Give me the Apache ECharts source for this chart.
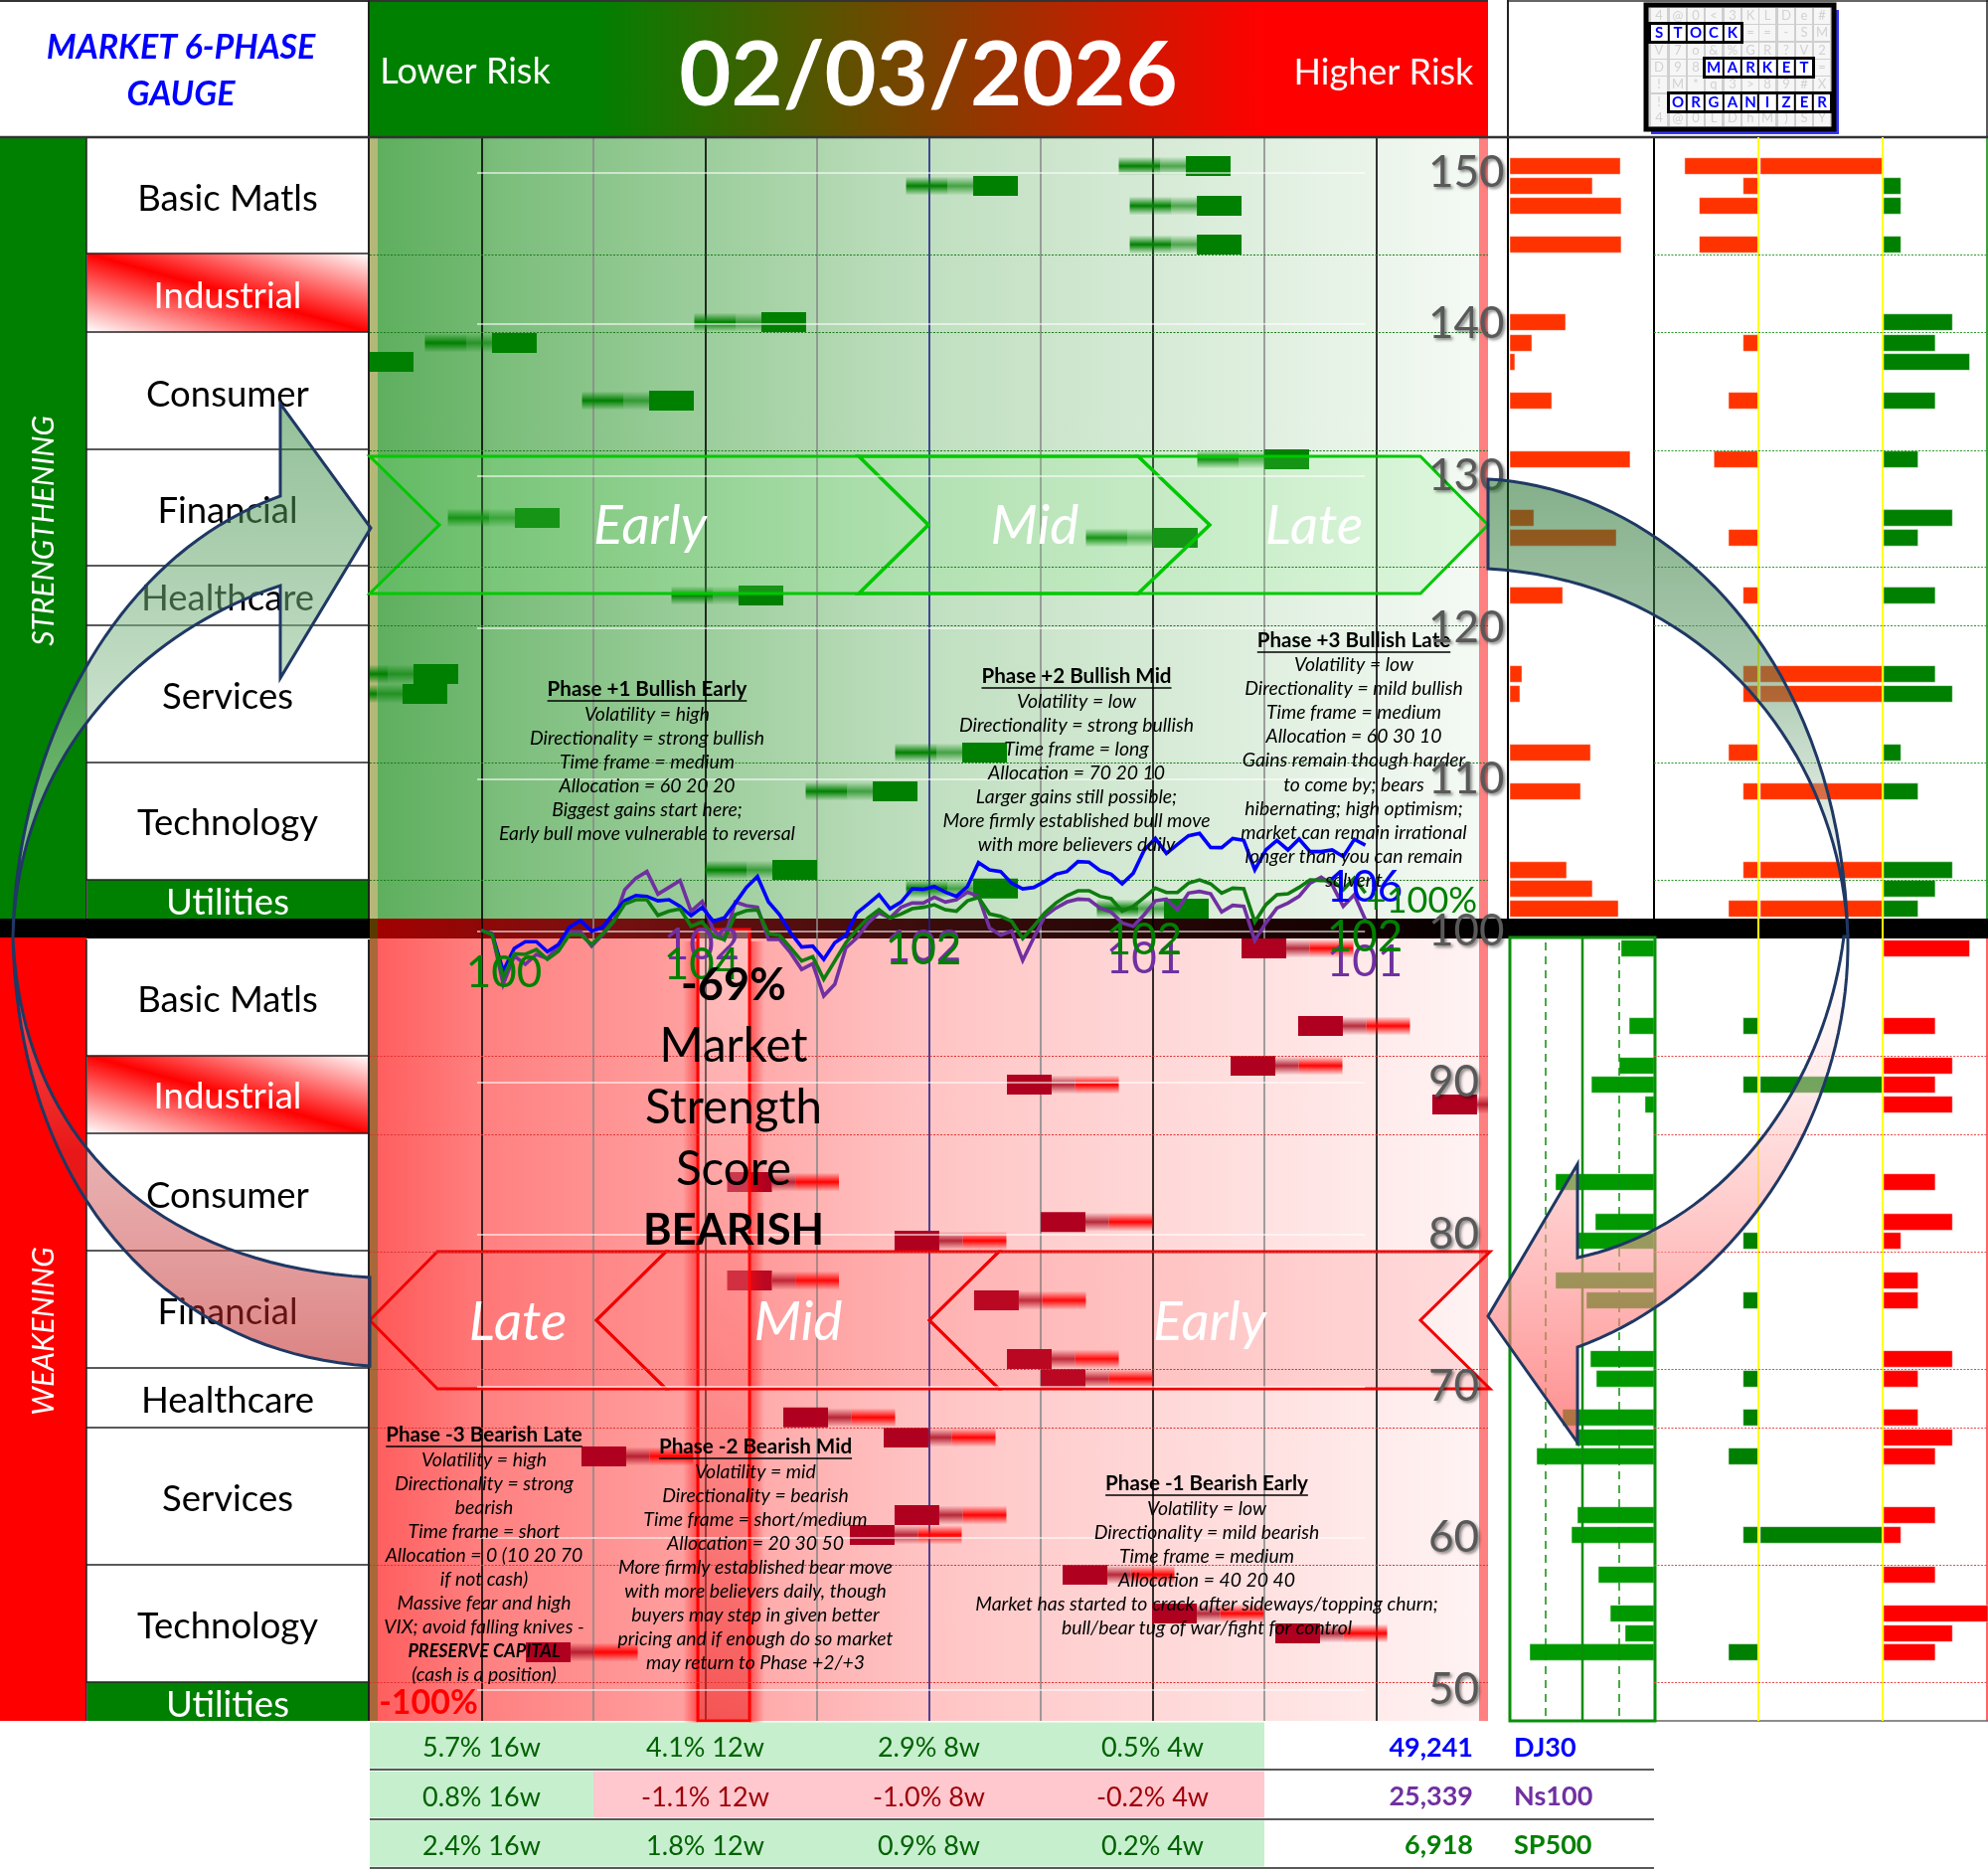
<!DOCTYPE html>
<html><head><meta charset="utf-8">
<style>html,body{margin:0;padding:0;background:#fff}#c{width:2000px;height:1880px}</style>
<script src="https://cdn.jsdelivr.net/npm/echarts@6/dist/echarts.min.js"></script>
</head><body><div id="c"></div>
<script>
// ---------- DATA ----------
const axisTicks = [50,60,70,80,90,100,110,120,130,140,150];
const rowBoundariesUp = [144.6,139.49,131.69,124.02,120.15,111.11,103.38];
const rowBoundariesDown = [91.78,86.6,78.87,71.14,67.28,58.23,50.5];

// sectors above 100: level, position of right end in the gauge, three side panels
const gainLevel = [150.43,149.12,147.81,145.26,140.14,138.77,137.52,134.97,131.1,127.24,125.93,122.13,116.95,115.64,111.77,109.21,104.03,102.8,101.48];
const gainPos   = [7.698,5.796,7.796,7.796,3.902,1.493,0.391,2.898,8.4,1.698,7.404,3.698,0.791,0.693,5.698,4.898,4.0,5.796,7.502];
const gainA     = [76.6,57.2,77.2,77.2,38.6,15.2,3.4,29,83.4,16.6,73.8,36.6,8.3,6.9,55.9,49,39.3,57.2,75.2];
const gainDepth = [5,1,4,4,0,1,0,2,3,0,2,1,1,1,2,1,1,0,2];
const gainSpan  = [1,0,0,0,0,0,0,0,0,0,0,0,1,1,0,1,1,0,1];
const gainRight = [0,1,1,1,4,3,5,3,2,4,2,3,3,4,1,2,4,3,2];

// sectors below 100
const lossLevel = [98.86,93.75,91.13,89.88,88.57,83.46,80.83,79.59,76.97,75.66,71.8,70.49,67.94,66.62,65.38,61.51,60.2,57.58,55.02,53.71,52.47];
const lossPos   = [7.796,8.302,7.698,5.698,9.502,3.196,6.0,4.693,3.196,5.404,5.698,6.0,3.698,4.596,1.893,4.693,4.293,6.196,6.996,8.098,1.396];
const lossA     = [22.8,17.2,24.1,43.4,6.2,68.3,40.7,53.1,68.3,46.9,44.1,40,63.4,54.5,81.4,53.1,57.2,38.6,30.3,20,86.2];
const lossDepth = [0,1,0,1,0,0,0,1,0,1,0,1,1,0,2,0,1,0,0,0,2];
const lossSpan  = [0,0,0,1,0,0,0,0,0,0,0,0,0,0,0,0,1,0,0,0,0];
const lossRight = [5,3,4,3,4,3,4,1,2,2,4,2,2,4,3,3,1,3,6.07,4,3];

const dj30 = [100.06,99.82,97.37,98.86,99.30,99.30,98.64,99.12,100.26,100.69,100.0,100.26,101.20,102.0,102.35,102.29,102.0,102.07,101.63,101.02,101.57,100.65,100.87,101.85,102.88,103.60,101.92,101.09,99.89,98.95,99.01,98.14,99.23,99.73,101.20,101.79,102.40,101.48,101.92,102.79,102.75,102.94,102.57,102.29,102.94,104.52,104.04,103.93,103.16,102.79,102.88,103.27,103.75,103.93,104.58,104.54,103.99,103.75,103.12,103.82,105.35,106.11,105.13,105.72,106.29,106.44,105.52,105.50,106.11,105.98,104.04,105.35,105.98,105.35,106.07,105.24,105.24,105.35,104.91,106.05,105.67];
const ns100 = [100.06,99.82,96.50,98.36,97.81,98.47,98.20,99.01,99.95,99.95,99.01,99.78,100.65,102.73,103.49,103.93,102.44,102.88,103.34,101.31,101.96,100.10,99.45,101.92,101.68,101.57,99.45,99.45,98.57,97.48,97.85,95.73,96.50,98.90,99.56,100.54,101.20,100.87,101.57,101.85,101.85,102.24,101.92,102.07,102.57,102.29,100.21,99.73,100.0,98.07,99.56,100.98,101.52,101.92,102.11,102.07,101.52,101.26,100.54,100.32,101.09,102.0,102.11,101.41,102.51,102.62,102.46,101.26,101.70,101.63,99.38,100.54,101.52,101.85,102.29,103.16,103.55,103.05,101.63,102.40,100.76];
const sp500 = [100.06,99.78,96.94,98.51,98.47,98.79,98.14,98.68,99.78,99.78,99.12,99.82,100.65,101.79,102.07,102.07,101.04,101.31,101.46,100.32,100.61,99.67,99.45,101.09,101.35,101.41,99.82,99.73,98.90,98.03,98.31,96.83,98.03,99.23,100.10,100.87,101.41,100.87,101.13,101.48,101.57,101.74,101.41,101.31,102.0,102.22,101.13,100.98,100.65,99.51,100.32,101.20,101.85,102.33,102.66,102.66,102.29,102.14,101.31,101.63,102.22,102.83,102.55,102.55,103.16,103.38,103.12,102.51,102.83,102.79,100.61,101.74,102.40,102.46,102.88,103.38,103.34,103.34,102.73,103.49,102.51];

const weeks = ['16w','12w','8w','4w'];
const indexNames = ['DJ30','Ns100','SP500'];
const indexLevels = ['49,241','25,339','6,918'];
const dj30Change = [5.7,4.1,2.9,0.5];
const ns100Change = [0.8,-1.1,-1.0,-0.2];
const sp500Change = [2.4,1.8,0.9,0.2];

const sectorsUp = ['Basic Matls','Industrial','Consumer','Financial','Healthcare','Services','Technology','Utilities'];
const scoreText = ['-69%','Market','Strength','Score','BEARISH'];

// ---------- LAYOUT ----------
const F = 'Lato, "Open Sans", sans-serif';
const TOP = 138, BOTTOM = 1731, H = BOTTOM - TOP, PX = 15.26;
const yMaxV = 150 + (173.6 - TOP) / PX, yMinV = 150 - (BOTTOM - 173.6) / PX;

const G = [];
const measure = document.createElement('canvas').getContext('2d');
const rect = (x,y,w,h,fill,z,extra) => G.push(Object.assign({type:'rect',shape:{x,y,width:w,height:h},style:{fill},z:z||1,silent:true},extra||{}));
const seg = (x1,y1,x2,y2,stroke,lw,z,dash) => G.push({type:'line',shape:{x1,y1,x2,y2},style:{stroke,lineWidth:lw,lineDash:dash||null},z:z||2,silent:true});
const txt = (x,y,text,font,fill,z,extra) => G.push(Object.assign({type:'text',x,y:y+1,z:z||6,silent:true,style:Object.assign({text,font,fill,align:'center',verticalAlign:'middle',textAlign:'center',textVerticalAlign:'middle'},(extra||{}))}));
// outline given as M/L/C commands, flattened to a polygon
function path(d,fill,stroke,lw,z){
  const tok=d.match(/[MLCZ]|-?[\d.]+/g); const pts=[]; let i=0,cmd='';
  while(i<tok.length){
    if(/[MLCZ]/.test(tok[i])){cmd=tok[i++]; if(cmd==='Z')continue;}
    if(cmd==='C'){
      const p0=pts[pts.length-1],a=[+tok[i],+tok[i+1]],b=[+tok[i+2],+tok[i+3]],c=[+tok[i+4],+tok[i+5]]; i+=6;
      for(let k=1;k<=40;k++){const t=k/40,u=1-t;
        pts.push([u*u*u*p0[0]+3*u*u*t*a[0]+3*u*t*t*b[0]+t*t*t*c[0],u*u*u*p0[1]+3*u*u*t*a[1]+3*u*t*t*b[1]+t*t*t*c[1]]);}
    } else { pts.push([+tok[i],+tok[i+1]]); i+=2; }
  }
  G.push({type:'polygon',shape:{points:pts},style:{fill,stroke,lineWidth:lw,lineJoin:'miter'},z,silent:true});
}
const grad = (x,y,x2,y2,stops,global) => ({type:'linear',x,y,x2,y2,global:!!global,colorStops:stops.map(s=>({offset:s[0],color:s[1]}))});

// page frame
rect(0,0,2000,1880,'#fff',-20);
// header
rect(372,0,1125,138,grad(0,0,1,0,[[0,'#008000'],[0.2,'#008000'],[0.8,'#ff0000'],[1,'#ff0000']]),-5);
seg(0,1,1497,1,'#333',2,2);
seg(371,0,371,TOP,'#222',2,2);
seg(0,TOP,2000,TOP,'#333',2.5,5);
seg(1517,1,2000,1,'#333',1.5,2);
seg(1517,0,1517,TOP,'#222',2,2);
seg(1999,0,1999,TOP,'#222',1.5,2);
txt(182,47,'MARKET 6-PHASE','italic bold 34px '+F,'#0000ff');
txt(182,94,'GAUGE','italic bold 34px '+F,'#0000ff');
txt(468,71,'Lower Risk','36px '+F,'#fff');
txt(1392,72,'Higher Risk','36px '+F,'#fff');
txt(934,76,'02/03/2026','bold 90px '+F,'#fff');

// logo
rect(1661,10,189,125,'#3333ff',3);
rect(1656,5,189,125,'#cfcfcf',4,{style:{fill:'#cfcfcf',stroke:'#000',lineWidth:5}});
const logoRows = ['4@0<3KLDe#','STOCK==-SM','V7o&%GR?V2','D98MARKET=','!M*q3>89#X','!ORGANIZER','4@0LDhM)SY'];
const logoCol = [1669,1688,1706,1724,1743,1761,1778,1797,1815,1833];
const logoRow = [16,33,51,68,85,103,119];
const logoWords = [[1,0,4],[3,3,8],[5,1,9]];
logoRows.forEach((r,ri)=>{[...r].forEach((ch,ci)=>{
  rect(logoCol[ci]-8,logoRow[ri]-8,16,16,'#f6f6f6',4);
  const w = logoWords.find(w=>w[0]===ri && ci>=w[1] && ci<=w[2]);
  if(!w) txt(logoCol[ci],logoRow[ri]-1,ch,'13px '+F,'#d2d2d2',5);
});});
logoWords.forEach(w=>{
  const x0=logoCol[w[1]]-9.5,x1=logoCol[w[2]]+9.5,y=logoRow[w[0]];
  rect(x0,y-9.5,x1-x0,19,'#000',5,{style:{fill:'#fff',stroke:'#000',lineWidth:3}});
  for(let c=w[1];c<=w[2];c++){
    if(c>w[1]) seg(logoCol[c]-9.2,y-9,logoCol[c]-9.2,y+9,'#000',2,5);
    txt(logoCol[c],y-1,logoRows[w[0]][c],'bold 15px '+F,'#0000ff',6);
  }
});

// left columns and sector cells
rect(0,TOP,87,924-TOP,'#008000',1);
rect(0,943,87,BOTTOM-943,'#ff0000',1);
const vert=(y,t)=>G.push({type:'text',x:44,y,rotation:Math.PI/2,z:6,silent:true,style:{text:t,font:'italic 30px '+F,fill:'#fff',align:'center',verticalAlign:'middle',textAlign:'center',textVerticalAlign:'middle'}});
vert(534,'STRENGTHENING'); vert(1339,'WEAKENING');
const upBounds=[138,255,334,452,569,629,767,885,924];
const dnBounds=[945,1062,1140,1258,1376,1436,1574,1692,1731];
const upText=[199,297,396,513,601,700,827,907];
const dnText=[1005,1102,1202,1319,1408,1507,1635,1714];
function cells(bounds,texts){
  sectorsUp.forEach((s,i)=>{
    const y0=bounds[i],y1=bounds[i+1],my=(y0+y1)/2;
    if(s==='Industrial'){
      rect(88,y0,283,y1-y0,grad(208.5,my+73.3,249.5,my-73.3,[[0,'#ffffff'],[0.5,'#ff0000'],[1,'#ffffff']],true),1);
    } else if(s==='Utilities'){
      rect(88,y0,283,y1-y0,'#008000',1);
    }
    const white=(s==='Industrial'||s==='Utilities');
    txt(229,texts[i],s,'36.5px '+F,white?'#fff':'#000',6);
    if(i>0) seg(87,y0,371,y0,'#222',1.5,2);
  });
  seg(87,bounds[0],87,bounds[8],'#222',1.5,2);
  seg(371,bounds[0],371,bounds[8],'#222',2,2);
}
cells(upBounds,upText); cells(dnBounds,dnText);

// gauge backgrounds
rect(372,TOP,1125,924-TOP,grad(0,0,1,0,[[0,'#5dae5d'],[0.1,'#72b972'],[0.11,'#7abd7a'],[0.5,'#c0dfc0'],[1,'#f5faf5']]),-5);
rect(372,943,1125,BOTTOM-943,grad(0,0,1,0,[[0,'#ff5c5c'],[0.1,'#ff8080'],[0.5,'#ffc4c4'],[1,'#fff4f4']]),-5);
rect(372,TOP,8,924-TOP,'#b3b878',-4);
rect(372,943,8,BOTTOM-943,'#a8683a',-4);
rect(1488,TOP,9,BOTTOM-TOP,'#ff8080',-4);
// black band
rect(0,924,2000,20,'#000',-3);
rect(372,924,1125,20,grad(0,0,1,0,[[0,'#a30000'],[0.2,'#7a1010'],[0.5,'#3a0c0c'],[0.9,'#120000'],[1,'#000']]),-2);
rect(372,924,8,20,'#5a3a00',-2);

// side panel frames
seg(1517,TOP,1517,924,'#000',2,2);
seg(1664,TOP,1664,924,'#000',2,2);
seg(1999,TOP,1999,924,'#008000',1.5,2);
seg(1999,944,1999,BOTTOM,'#ff3030',1.5,2);
seg(1664,BOTTOM,2000,BOTTOM,'#666',1.5,2);
rect(1519,943,146,BOTTOM-943,'rgba(0,0,0,0)',4,{style:{fill:'rgba(0,0,0,0)',stroke:'#0a8f0a',lineWidth:3}});
seg(1592,944,1592,BOTTOM,'#0a8f0a',2.5,4);
seg(1555,948,1555,BOTTOM,'#0a8f0a',1.5,4,[8,6]);
seg(1629,948,1629,BOTTOM,'#0a8f0a',1.5,4,[8,6]);
seg(1769,TOP,1769,BOTTOM,'#ffff00',2,5);
seg(1894,TOP,1894,BOTTOM,'#ffff00',2,5);

// chevrons
const chevU='#00c800', chevD='#f00000';
const chevFillU='rgba(120,240,120,0.18)', chevFillD='rgba(255,60,60,0.13)';
path('M372 459L864 459L934 528L864 597L372 597L442 528Z',chevFillU,chevU,3,4);
path('M864 459L1145 459L1217 528L1145 597L864 597L934 528Z',chevFillU,chevU,3.5,4);
path('M1145 459L1429 459L1497 528L1429 597L1145 597L1217 528Z',chevFillU,chevU,3,4);
path('M372 1328L440 1259L670 1259L600 1328L670 1397L440 1397Z',chevFillD,chevD,3,4);
path('M600 1328L670 1259L1005 1259L935 1328L1005 1397L670 1397Z',chevFillD,chevD,3,4);
path('M935 1328L1005 1259L1499 1259L1429 1328L1499 1397L1005 1397Z',chevFillD,chevD,3,4);
const chevTextFont='italic 55px '+F;
txt(654,528,'Early',chevTextFont,'#fff',6);
txt(1041,528,'Mid',chevTextFont,'#fff',6);
txt(1322,528,'Late',chevTextFont,'#fff',6);
txt(521,1329,'Late',chevTextFont,'#fff',6);
txt(803,1329,'Mid',chevTextFont,'#fff',6);
txt(1217,1329,'Early',chevTextFont,'#fff',6);

// arrows
const navy='#1f3864';
path('M13 942C16 760 110 560 282 499L282 406L373 531L282 682L282 589C130 640 18 770 13 942Z',
  grad(0,0,0,1,[[0,'rgba(40,130,50,0.5)'],[0.5,'rgba(140,190,145,0.55)'],[1,'rgba(255,255,255,0.6)']]),navy,3,7);
path('M13 942C20 1120 130 1270 372 1285L372 1374C160 1360 18 1190 13 942Z',
  grad(0,0,0,1,[[0,'rgba(255,255,255,0.3)'],[0.5,'rgba(200,60,60,0.4)'],[1,'rgba(192,30,30,0.55)']]),navy,3,7);
path('M1497 482C1660 490 1850 640 1859 942C1852 760 1720 585 1497 572Z',
  grad(0,0,0,1,[[0,'rgba(30,110,40,0.55)'],[0.45,'rgba(90,150,100,0.5)'],[1,'rgba(255,255,255,0.3)']]),navy,3,7);
path('M1859 942C1862 1130 1740 1300 1587 1355L1587 1451L1497 1324L1587 1171L1587 1265C1730 1235 1835 1100 1855 942Z',
  grad(0,0,0,1,[[0,'rgba(255,255,255,0.2)'],[0.4,'rgba(255,190,190,0.55)'],[1,'rgba(255,90,90,0.7)']]),navy,3,7);

// phase notes
function note(cx,headY,head,ys,lines){
  const hf='bold 20.6px '+F;
  txt(cx,headY,head,hf,'#000',6);
  measure.font=hf; const w=measure.measureText(head).width;
  seg(cx-w/2,headY+13,cx+w/2,headY+13,'#000',1.3,6);
  lines.forEach((l,i)=>{
    const bold=l==='PRESERVE CAPITAL';
    txt(cx,ys[i],l,(bold?'italic bold 18px ':'italic 19.4px ')+F,'#000',6);
  });
}
note(651,692,'Phase +1 Bullish Early',[718,742,766,790,814,838],['Volatility = high','Directionality = strong bullish','Time frame = medium','Allocation = 60 20 20','Biggest gains start here;','Early bull move vulnerable to reversal']);
note(1083,679,'Phase +2 Bullish Mid',[705,729,753,777,801,825,849],['Volatility = low','Directionality = strong bullish','Time frame = long','Allocation = 70 20 10','Larger gains still possible;','More firmly established bull move','with more believers daily']);
note(1362,643,'Phase +3 Bullish Late',[668,692,716,740,764,789,813,837,861,885],['Volatility = low','Directionality = mild bullish','Time frame = medium','Allocation = 60 30 10','Gains remain though harder','to come by; bears','hibernating; high optimism;','market can remain irrational','longer than you can remain','solvent']);
note(487,1442,'Phase -3 Bearish Late',[1468,1492,1516,1540,1564,1588,1612,1636,1660,1684],['Volatility = high','Directionality = strong','bearish','Time frame = short','Allocation = 0 (10 20 70','if not cash)','Massive fear and high','VIX; avoid falling knives -','PRESERVE CAPITAL','(cash is a position)']);
note(760,1454,'Phase -2 Bearish Mid',[1480,1504,1528,1552,1576,1600,1624,1648,1672],['Volatility = mid','Directionality = bearish','Time frame = short/medium','Allocation = 20 30 50','More firmly established bear move','with more believers daily, though','buyers may step in given better','pricing and if enough do so market','may return to Phase +2/+3']);
note(1214,1491,'Phase -1 Bearish Early',[1517,1541,1565,1589,1613,1637],['Volatility = low','Directionality = mild bearish','Time frame = medium','Allocation = 40 20 40','Market has started to crack after sideways/topping churn;','bull/bear tug of war/fight for control']);

// score text
const scoreY=[990,1052,1114,1176,1237];
const scoreFont=['bold 45px ','47.5px ','47.5px ','47.5px ','bold 43.5px '];
scoreText.forEach((t,i)=>txt(738,scoreY[i],t,scoreFont[i]+F,'#000',8));

// series labels on the chart
const sz='44px '+F;
txt(507,978,'100',sz,'#008000',6);
txt(706,950,'102',sz,'#7030a0',6);
txt(706,970,'104',sz,'#008000',6);
txt(929,952,'102',sz,'#7030a0',6);
txt(929,955,'102',sz,'#008000',6);
txt(1151,964,'101',sz,'#7030a0',6);
txt(1151,945,'102',sz,'#008000',6);
txt(1373,967,'101',sz,'#7030a0',6);
txt(1373,942,'102',sz,'#008000',6);
txt(1373,892,'106',sz,'#0000ff',6);
txt(1430,905,'+100%','36px '+F,'#008000',6);
txt(431,1712,'-100%','bold 34px '+F,'#ff0000',6);

// bottom table right part
const idxColor=['#0000ff','#7030a0','#008000'];
const idxY=[1758,1807.5,1856];
indexNames.forEach((n,i)=>{
  G.push({type:'text',x:1482,y:idxY[i],z:6,silent:true,style:{text:indexLevels[i],font:'bold 27px '+F,fill:idxColor[i],align:'right',verticalAlign:'middle',textAlign:'right',textVerticalAlign:'middle'}});
  G.push({type:'text',x:1523,y:idxY[i],z:6,silent:true,style:{text:n,font:'bold 27px '+F,fill:idxColor[i],align:'left',verticalAlign:'middle',textAlign:'left',textVerticalAlign:'middle'}});
});
[1780,1830,1879].forEach(y=>seg(372,y,1664,y,'#222',1.5,6));

// ---------- GRIDS / AXES ----------
const grids=[], xAxes=[], yAxes=[];
function addGrid(left,width,xa,ya,top,height){
  const i=grids.length;
  grids.push({left,width,top:top===undefined?TOP:top,height:height===undefined?H:height,containLabel:false});
  xAxes.push(Object.assign({gridIndex:i,type:'value',show:false,splitLine:{show:false}},xa));
  yAxes.push(Object.assign({gridIndex:i,type:'value',min:yMinV,max:yMaxV,show:false,splitLine:{show:false}},ya||{}));
  return i;
}
const gMain=addGrid(372,1125,{min:0,max:10,interval:1,show:true,z:1,axisLine:{show:false},axisTick:{show:false},axisLabel:{show:false},
  splitLine:{show:true,lineStyle:{width:1.6,color:['rgba(0,0,0,0)','#000','#8a8a8a','#000','#8a8a8a','#20208a','#8a8a8a','#000','#8a8a8a','#000','rgba(0,0,0,0)']}}},
  {show:true,position:'right',offset:-60,z:6,axisLine:{show:false},axisTick:{show:false},
   axisLabel:{show:true,customValues:axisTicks,margin:0,align:'left',fontFamily:F,fontSize:44,color:'#595959',textShadowColor:'rgba(0,0,0,0.45)',textShadowBlur:3,textShadowOffsetX:2,textShadowOffsetY:2}});
const gLines=addGrid(484,889.6,{type:'category',boundaryGap:false,data:dj30.map((_,i)=>i)});
const gAUp=addGrid(1519,145,{min:0,max:100});
const gADn=addGrid(1519,145,{min:0,max:100,inverse:true});
const gB=addGrid(1664,230,{min:-7.1,max:8.54});
const gC=addGrid(1895,105,{min:0,max:6.07});
const gT=addGrid(372,900,{type:'category',data:weeks,boundaryGap:true},{type:'category',data:indexNames,inverse:true,min:null,max:null},BOTTOM,148);

// ---------- RENDERERS ----------
function barSeries(g,data,color,z){
  return {type:'custom',xAxisIndex:g,yAxisIndex:g,z:z||3,silent:true,clip:false,animation:false,
    encode:{x:[0,1],y:2},data,
    renderItem:(p,api)=>{
      const a=api.coord([api.value(0),api.value(2)]),b=api.coord([api.value(1),api.value(2)]);
      return {type:'rect',shape:{x:Math.min(a[0],b[0]),y:a[1]-8.3,width:Math.abs(a[0]-b[0]),height:16.6},
        style:{fill:color,stroke:'rgba(255,255,255,0.45)',lineWidth:1}};
    }};
}
function vGrad(rgb,a){return grad(0,0,0,1,[[0,`rgba(${rgb},0)`],[0.5,`rgba(${rgb},${a})`],[1,`rgba(${rgb},0)`]]);}
function markSeries(levels,pos,gain){
  return {type:'custom',xAxisIndex:gMain,yAxisIndex:gMain,z:3,silent:true,clip:true,animation:false,
    encode:{x:0,y:1},data:pos.map((p,i)=>[p,levels[i]]),
    renderItem:(params,api)=>{
      const c=api.coord([api.value(0),api.value(1)]),u=api.size([1,0])[0];
      const body=u*0.4,tail=u*0.6,h=20,th=19;
      const kids=[];
      if(gain){
        kids.push({type:'rect',shape:{x:c[0]-body,y:c[1]-h/2,width:body,height:h},style:{fill:'#008000'}});
        kids.push({type:'rect',shape:{x:c[0]-u,y:c[1]-th/2,width:tail*0.62,height:th},style:{fill:vGrad('0,128,0',1)}});
        kids.push({type:'rect',shape:{x:c[0]-u+tail*0.62,y:c[1]-th/2,width:tail*0.38,height:th},style:{fill:vGrad('0,128,0',0.65)}});
      } else {
        kids.push({type:'rect',shape:{x:c[0],y:c[1]-h/2,width:body,height:h},style:{fill:'#b00020'}});
        kids.push({type:'rect',shape:{x:c[0]+body,y:c[1]-th/2,width:tail*0.35,height:th},style:{fill:vGrad('170,10,30',0.85)}});
        kids.push({type:'rect',shape:{x:c[0]+body+tail*0.35,y:c[1]-th/2,width:tail*0.65,height:th},style:{fill:vGrad('255,0,0',1)}});
      }
      return {type:'group',children:kids};
    }};
}
function ruleSeries(g,values,color){
  return {type:'line',xAxisIndex:g,yAxisIndex:g,data:[],z:2,silent:true,
    markLine:{silent:true,symbol:'none',animation:false,label:{show:false},lineStyle:{type:[2,1.5],width:1,color},data:values.map(v=>({yAxis:v}))}};
}
const lineSeries=(data,color,z)=>({type:'line',xAxisIndex:gLines,yAxisIndex:gLines,data,z,silent:true,symbol:'none',showSymbol:false,animation:false,clip:false,lineStyle:{color,width:3.6,join:'miter'}});

const series=[];
series.push({type:'line',xAxisIndex:gMain,yAxisIndex:gMain,data:[],z:2,silent:true,
  markLine:{silent:true,symbol:'none',animation:false,label:{show:false},lineStyle:{type:'solid',width:1.6,color:'rgba(255,255,255,0.75)'},
  data:axisTicks.map(v=>[{coord:[0.96,v]},{coord:[8.9,v]}])}});
series.push(ruleSeries(gMain,rowBoundariesUp,'#1a7a1a'));
series.push(ruleSeries(gMain,rowBoundariesDown,'#e03030'));
series.push(ruleSeries(gB,rowBoundariesUp,'#2a9a2a'));
series.push(ruleSeries(gC,rowBoundariesUp,'#2a9a2a'));
series.push(ruleSeries(gB,rowBoundariesDown,'#e84848'));
series.push(ruleSeries(gC,rowBoundariesDown,'#e84848'));
series.push(markSeries(gainLevel,gainPos,true));
series.push(markSeries(lossLevel,lossPos,false));
// score box: outline, soft glow down both sides, fill that deepens towards the bottom
series.push({type:'custom',xAxisIndex:gMain,yAxisIndex:gMain,z:3,silent:true,clip:false,animation:false,encode:{x:[0,1],y:[2,3]},
  data:[[2.934,3.396,100.1,yMinV]],
  renderItem:(p,api)=>{
    const a=api.coord([api.value(0),api.value(2)]),b=api.coord([api.value(1),api.value(3)]);
    const gy=a[1]+12,gh=b[1]-a[1]+8,gw=15;
    return {type:'group',children:[
      {type:'rect',shape:{x:a[0]-gw,y:gy,width:gw,height:gh},style:{fill:grad(0,0,1,0,[[0,'rgba(255,0,0,0)'],[1,'rgba(255,0,0,0.55)']])}},
      {type:'rect',shape:{x:b[0],y:gy,width:gw,height:gh},style:{fill:grad(0,0,1,0,[[0,'rgba(255,0,0,0.55)'],[1,'rgba(255,0,0,0)']])}},
      {type:'rect',shape:{x:a[0],y:a[1],width:b[0]-a[0],height:b[1]-a[1]},style:{fill:grad(0,0,0,1,[[0,'rgba(255,255,255,0.3)'],[0.45,'rgba(255,130,130,0.35)'],[1,'rgba(240,40,40,0.65)']]),stroke:'#ff0000',lineWidth:3}}
    ]};
  }});
series.push(lineSeries(ns100,'#7030a0',5));
series.push(lineSeries(dj30,'#0000ff',5));
series.push(lineSeries(sp500,'#0f7c0f',5));

// side panels
series.push(barSeries(gAUp,gainLevel.map((v,i)=>[0,gainA[i],v]),'#ff3300'));
series.push(barSeries(gADn,lossLevel.map((v,i)=>[0,lossA[i],v]),'#009900'));
const upB=[],dnB=[];
gainLevel.forEach((v,i)=>{ if(gainDepth[i]) upB.push([-gainDepth[i],0,v]); if(gainSpan[i]) upB.push([0.17,8.5,v]); });
lossLevel.forEach((v,i)=>{ if(lossDepth[i]) dnB.push([-lossDepth[i],0,v]); if(lossSpan[i]) dnB.push([0.17,8.5,v]); });
series.push(barSeries(gB,upB,'#ff3300'));
series.push(barSeries(gB,dnB,'#008000'));
series.push(barSeries(gC,gainLevel.map((v,i)=>[0,gainRight[i],v]).filter(d=>d[1]>0),'#008000'));
series.push(barSeries(gC,lossLevel.map((v,i)=>[0,lossRight[i],v]),'#ff0000'));

// change table
const changeRows=[dj30Change,ns100Change,sp500Change];
const tableData=[];
changeRows.forEach((row,r)=>row.forEach((v,c)=>tableData.push([c,r,v])));
series.push({type:'custom',xAxisIndex:gT,yAxisIndex:gT,z:3,silent:true,clip:false,animation:false,encode:{x:0,y:1},data:tableData,
  renderItem:(p,api)=>{
    const c=api.coord([api.value(0),api.value(1)]),s=api.size([1,1]),v=api.value(2);
    return {type:'group',children:[
      {type:'rect',shape:{x:c[0]-s[0]/2,y:c[1]-s[1]/2+1.5,width:s[0],height:s[1]-3},style:{fill:v<0?'#ffc7ce':'#c6efce'}},
      {type:'text',x:c[0],y:c[1]+3,style:{text:v.toFixed(1)+'% '+weeks[api.value(0)],font:'27px '+F,fill:v<0?'#9c0006':'#006100',align:'center',verticalAlign:'middle',textAlign:'center',textVerticalAlign:'middle'}}
    ]};
  }});

const chart=echarts.init(document.getElementById('c'),null,{renderer:'canvas',width:2000,height:1880});
chart.setOption({animation:false,backgroundColor:'#fff',grid:grids,xAxis:xAxes,yAxis:yAxes,series,graphic:{elements:G}});
</script></body></html>
